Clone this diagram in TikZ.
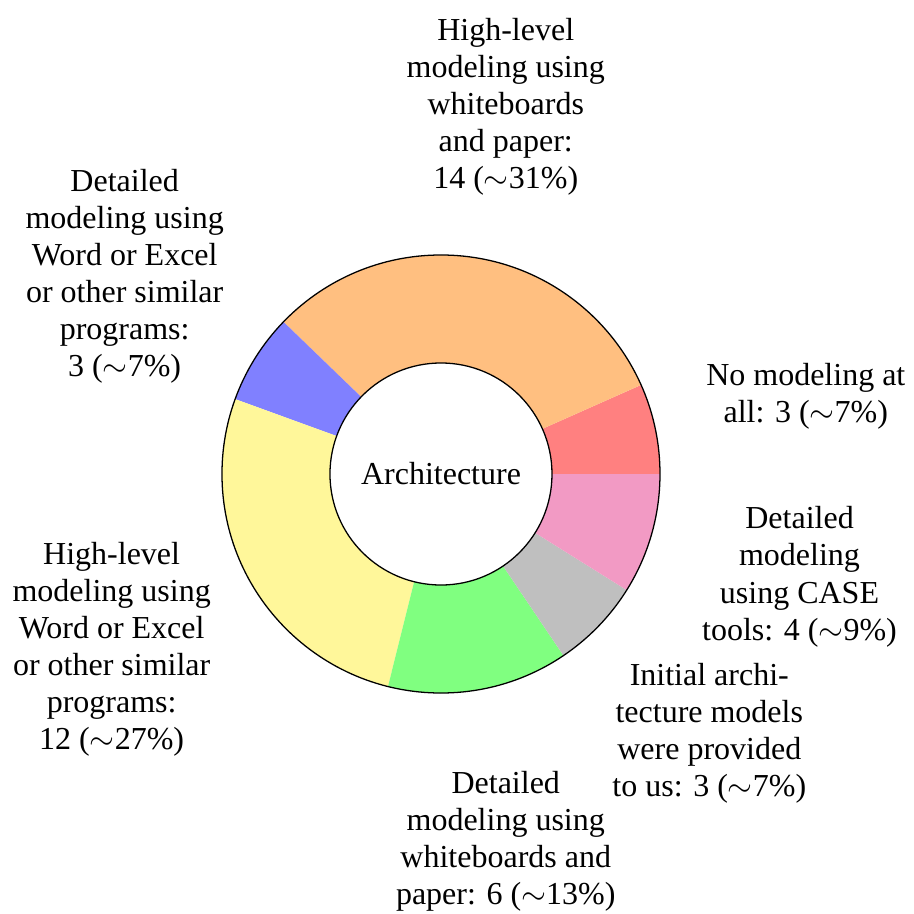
\documentclass[tikz,border=0pt]{standalone}
\usepackage{fontspec}
\setmainfont{Liberation Serif}
\definecolor{sliceyellow}{RGB}{255,247,154}
\definecolor{slicepink}{RGB}{242,154,196}
\begin{document}
\begin{tikzpicture}[
  slicelabel/.style={align=center, font=\fontsize{10}{11.6}\selectfont},
  ring/.style={draw=black, line width=0.4pt},
]
\useasboundingbox (-137.81pt,-137.5pt) rectangle (147.81pt,148.125pt);
% outer radius, inner radius, radius of the label centres
\def\Ro{68.44pt}
\def\Ri{34.69pt}
\def\Rl{116.56pt}
% ring segments, 8 degrees per answer (45 answers)
\foreach \a/\b/\c in {0/24/red!50, 24/136/orange!50, 136/160/blue!50,
  160/256/sliceyellow, 256/304/green!50, 304/328/gray!50, 328/360/slicepink}{
  \fill[\c] (\a:\Ri) -- (\a:\Ro) arc[start angle=\a, end angle=\b, radius=\Ro]
    -- (\b:\Ri) arc[start angle=\b, end angle=\a, radius=\Ri] -- cycle;
}
\draw[ring] (0,0) circle[radius=\Ro];
\draw[ring] (0,0) circle[radius=\Ri];
\node[slicelabel] (title) at (0,0) {Architecture};
% slice labels
\node[slicelabel] (lnone) at (12:\Rl) {No modeling at\\all: 3 ($\sim$7\%)};
\node[slicelabel] (lhlwb) at (80:\Rl) {High-level\\modeling using\\whiteboards\\and paper:\\14 ($\sim$31\%)};
\node[slicelabel] (ldword) at (148:\Rl) {Detailed\\modeling using\\Word or Excel\\or other similar\\programs:\\3 ($\sim$7\%)};
\node[slicelabel] (lhlword) at (208:\Rl) {High-level\\modeling using\\Word or Excel\\or other similar\\programs:\\12 ($\sim$27\%)};
\node[slicelabel] (ldwb) at (280:\Rl) {Detailed\\modeling using\\whiteboards and\\paper: 6 ($\sim$13\%)};
\node[slicelabel] (linit) at (316:\Rl) {Initial archi-\\tecture models\\were provided\\to us: 3 ($\sim$7\%)};
\node[slicelabel] (lcase) at (344:\Rl) {Detailed\\modeling\\using CASE\\tools: 4 ($\sim$9\%)};
\end{tikzpicture}
\end{document}
